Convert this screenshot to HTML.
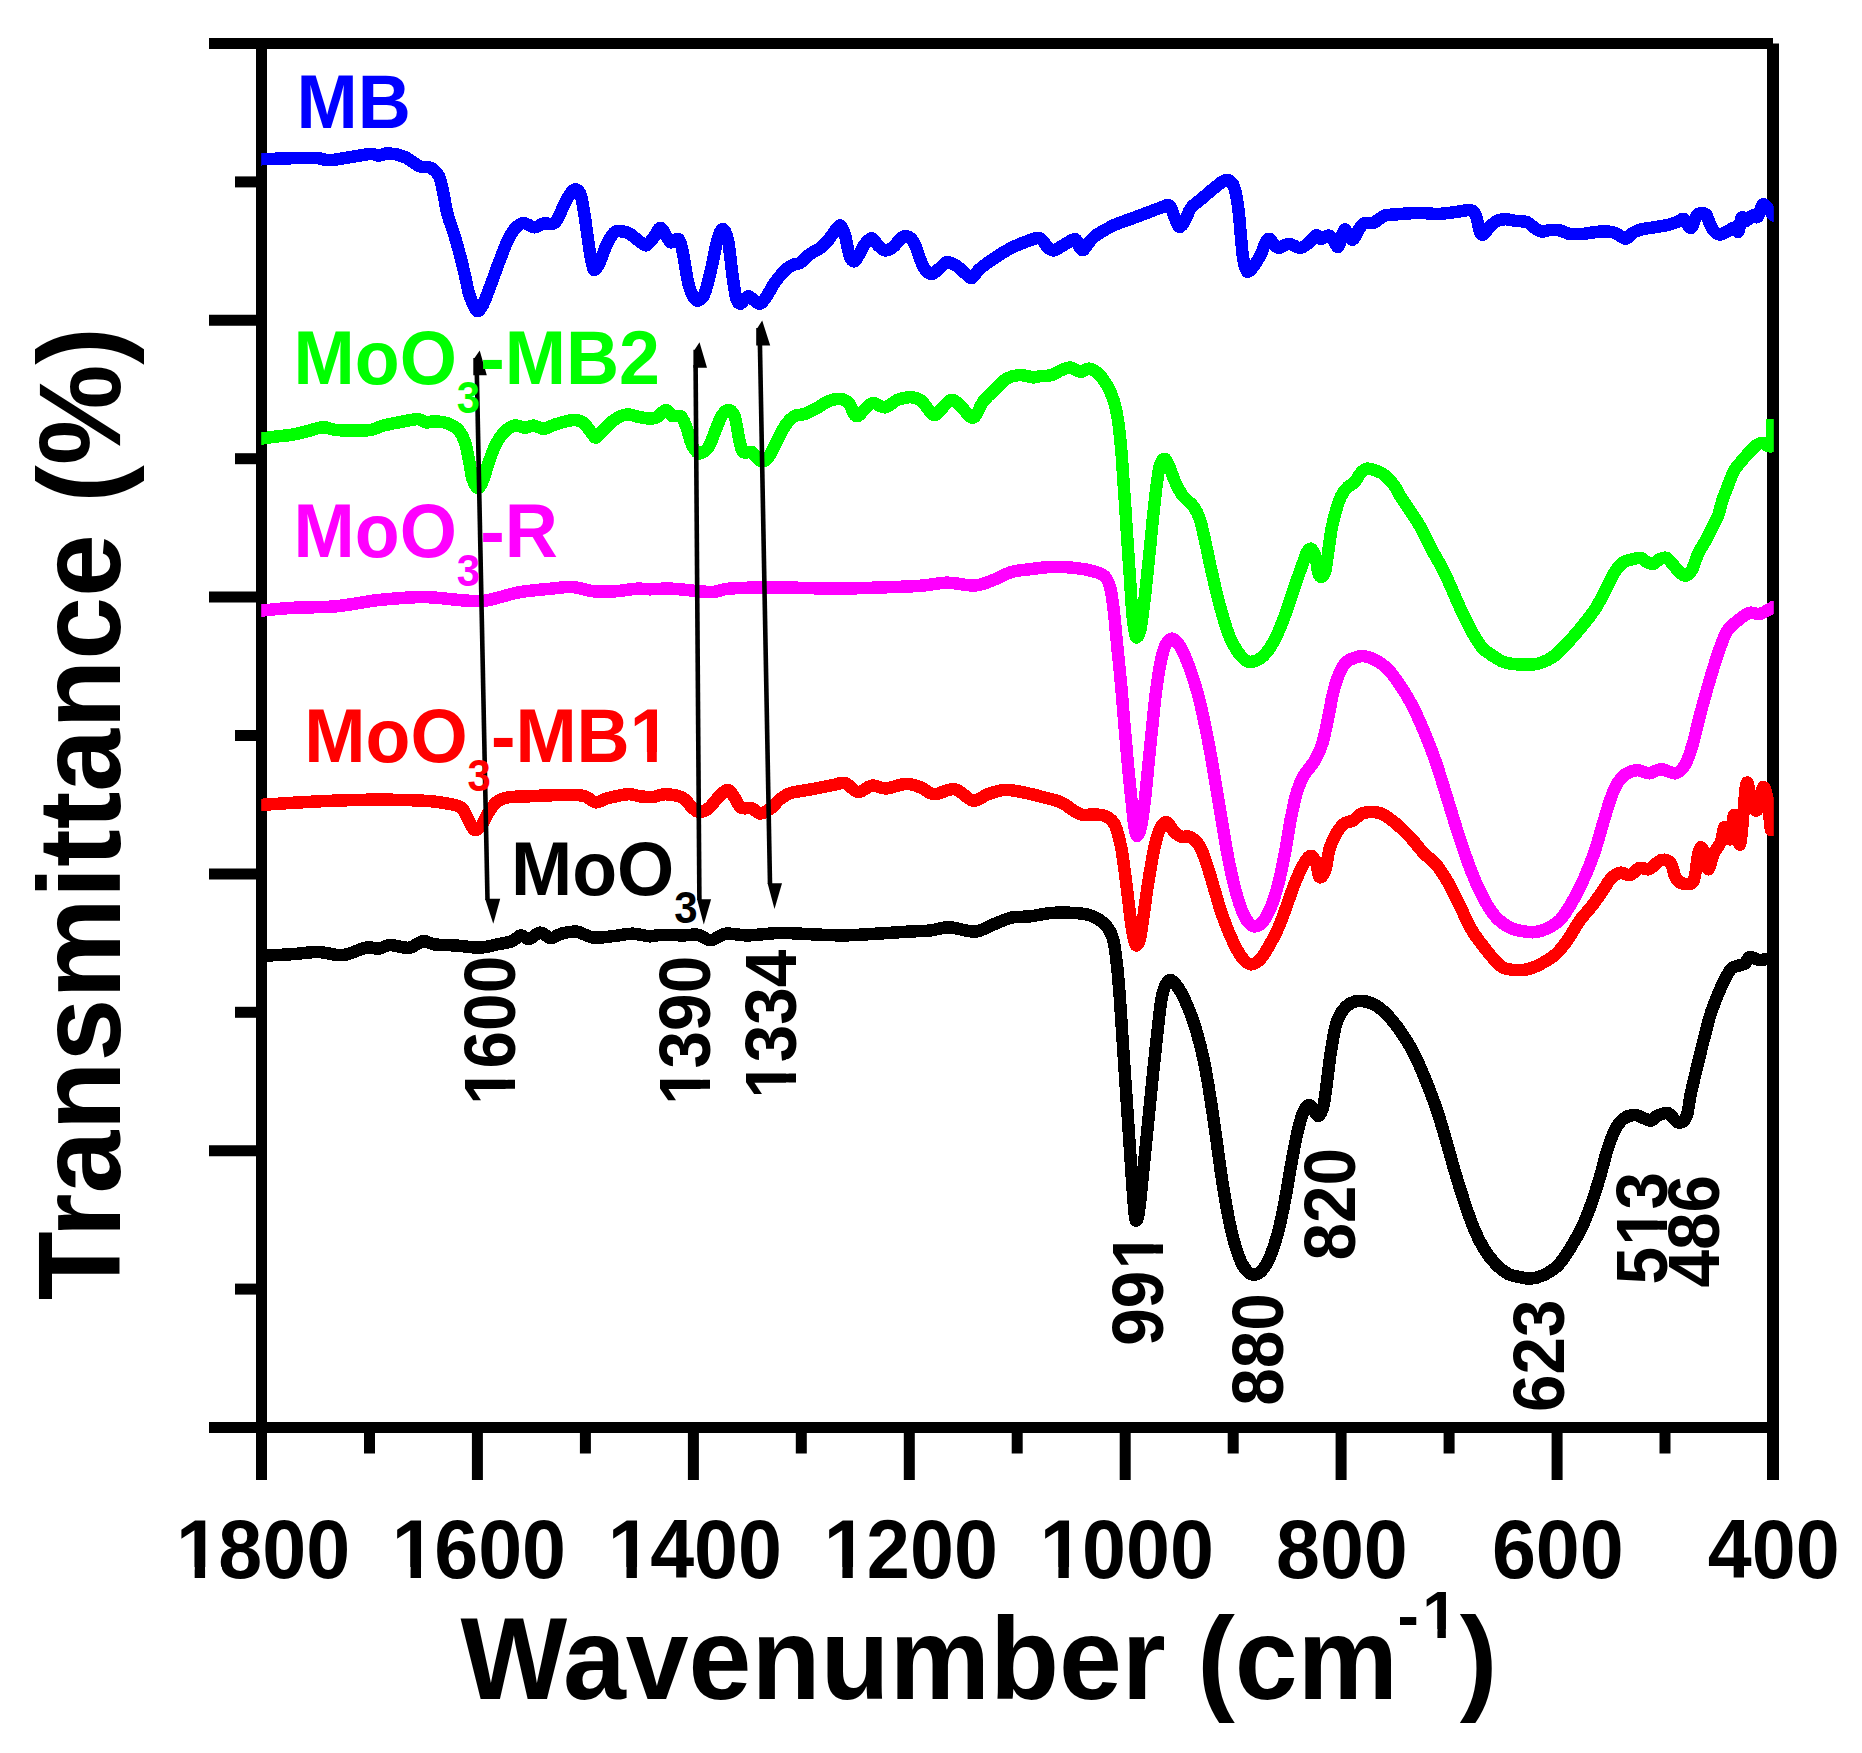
<!DOCTYPE html>
<html lang="en"><head><meta charset="utf-8"><title>FTIR spectra</title>
<style>html,body{margin:0;padding:0;background:#fff}svg{display:block}text{font-family:"Liberation Sans",sans-serif;font-weight:bold}</style></head><body>
<svg width="1862" height="1753" viewBox="0 0 1862 1753">
<rect width="1862" height="1753" fill="#fff"/>
<g stroke="#000" stroke-width="11" fill="none" stroke-linecap="butt">
<line x1="209" y1="43.5" x2="1773.0" y2="43.5"/>
<line x1="209" y1="1427.5" x2="1773.0" y2="1427.5"/>
<line x1="261.5" y1="43.5" x2="261.5" y2="1480"/>
<line x1="1773.0" y1="43.5" x2="1773.0" y2="1480" stroke-width="12"/>
<line x1="477.4" y1="1427.5" x2="477.4" y2="1480"/>
<line x1="693.4" y1="1427.5" x2="693.4" y2="1480"/>
<line x1="909.3" y1="1427.5" x2="909.3" y2="1480"/>
<line x1="1125.2" y1="1427.5" x2="1125.2" y2="1480"/>
<line x1="1341.1" y1="1427.5" x2="1341.1" y2="1480"/>
<line x1="1557.1" y1="1427.5" x2="1557.1" y2="1480"/>
<line x1="369.5" y1="1427.5" x2="369.5" y2="1453.5"/>
<line x1="585.4" y1="1427.5" x2="585.4" y2="1453.5"/>
<line x1="801.3" y1="1427.5" x2="801.3" y2="1453.5"/>
<line x1="1017.2" y1="1427.5" x2="1017.2" y2="1453.5"/>
<line x1="1233.2" y1="1427.5" x2="1233.2" y2="1453.5"/>
<line x1="1449.1" y1="1427.5" x2="1449.1" y2="1453.5"/>
<line x1="1665.0" y1="1427.5" x2="1665.0" y2="1453.5"/>
<line x1="209" y1="320.3" x2="261.5" y2="320.3"/>
<line x1="209" y1="597.1" x2="261.5" y2="597.1"/>
<line x1="209" y1="873.9" x2="261.5" y2="873.9"/>
<line x1="209" y1="1150.7" x2="261.5" y2="1150.7"/>
<line x1="235" y1="181.9" x2="261.5" y2="181.9"/>
<line x1="235" y1="458.7" x2="261.5" y2="458.7"/>
<line x1="235" y1="735.5" x2="261.5" y2="735.5"/>
<line x1="235" y1="1012.3" x2="261.5" y2="1012.3"/>
<line x1="235" y1="1289.1" x2="261.5" y2="1289.1"/>
</g>
<defs><clipPath id="pc"><rect x="261.2" y="40" width="1512.6" height="1392"/></clipPath></defs>
<g fill="none" stroke-linejoin="round" stroke-linecap="butt" stroke-width="12.5" clip-path="url(#pc)" shape-rendering="crispEdges">
<path stroke="#000" d="M255.2 956.0C256.2 956.0 259.3 956.1 261.2 956.0C263.1 955.9 261.5 955.9 266.8 955.6C272.1 955.3 284.4 954.7 293.0 954.1C301.6 953.5 310.5 951.8 318.7 952.0C326.9 952.2 334.5 955.9 342.4 955.2C350.3 954.5 359.9 948.8 366.0 947.7C372.1 946.6 375.0 949.1 378.9 948.7C382.8 948.3 384.6 945.3 389.6 945.1C394.6 944.9 403.4 948.4 409.0 947.7C414.6 947.1 418.7 941.8 423.0 941.2C427.3 940.7 429.2 943.7 434.7 944.4C440.2 945.1 448.7 945.0 456.2 945.5C463.7 946.0 473.1 947.9 479.9 947.7C486.7 947.5 491.6 945.5 497.0 944.4C502.4 943.3 508.1 942.7 512.0 941.2C516.0 939.7 517.8 935.8 520.7 935.4C523.6 935.0 526.1 939.5 529.3 939.0C532.5 938.5 536.4 932.8 540.0 932.6C543.6 932.4 547.2 937.8 550.8 938.0C554.4 938.2 557.2 934.8 561.5 933.7C565.8 932.6 571.1 931.0 576.5 931.6C581.9 932.2 587.2 936.9 593.7 937.6C600.2 938.3 608.8 936.5 615.2 935.9C621.7 935.2 626.6 933.6 632.4 933.7C638.2 933.8 645.1 936.1 650.0 936.3C654.9 936.5 656.0 934.9 661.5 934.8C667.0 934.6 676.9 935.4 683.0 935.4C689.1 935.4 693.4 934.0 698.0 934.8C702.6 935.6 706.2 940.4 710.9 940.2C715.5 940.0 719.8 934.5 725.9 933.7C732.0 932.9 738.4 935.5 747.4 935.4C756.4 935.3 768.9 933.2 779.6 933.0C790.4 932.8 801.2 933.9 811.9 934.3C822.6 934.7 833.3 935.5 844.0 935.4C854.7 935.3 865.5 934.3 876.3 933.7C887.0 933.1 899.5 932.1 908.5 931.6C917.5 931.1 923.2 931.2 930.0 930.5C936.8 929.8 941.8 927.1 949.3 927.3C956.8 927.5 967.5 932.1 975.0 931.6C982.5 931.1 988.4 926.3 994.5 924.0C1000.6 921.7 1005.7 918.9 1011.6 917.6C1017.5 916.3 1022.9 917.2 1030.0 916.4C1037.1 915.6 1044.8 913.2 1054.0 912.8C1063.2 912.4 1077.4 912.8 1085.0 914.0C1092.6 915.2 1095.5 917.4 1099.5 920.0C1103.5 922.6 1106.6 925.7 1109.0 929.5C1111.4 933.3 1112.5 936.1 1113.9 942.7C1115.3 949.3 1116.4 959.8 1117.4 969.0C1118.4 978.2 1119.0 987.0 1119.8 997.8C1120.6 1008.6 1121.4 1021.7 1122.2 1033.7C1123.0 1045.7 1123.8 1057.7 1124.6 1069.7C1125.4 1081.7 1126.2 1093.6 1127.0 1105.6C1127.8 1117.6 1128.6 1129.6 1129.4 1141.6C1130.2 1153.6 1131.0 1166.3 1131.8 1177.5C1132.6 1188.7 1133.5 1201.4 1134.2 1208.6C1134.9 1215.8 1135.2 1220.2 1136.0 1220.6C1136.8 1221.0 1137.9 1218.2 1139.0 1211.0C1140.1 1203.8 1141.4 1189.1 1142.6 1177.5C1143.8 1165.9 1145.0 1153.6 1146.2 1141.6C1147.4 1129.6 1148.6 1117.6 1149.8 1105.6C1151.0 1093.6 1152.2 1081.3 1153.4 1069.7C1154.6 1058.1 1155.8 1046.9 1157.0 1036.1C1158.2 1025.3 1159.4 1013.0 1160.6 1005.0C1161.8 997.0 1162.6 992.4 1164.2 988.2C1165.8 984.0 1167.8 979.8 1170.2 979.8C1172.6 979.8 1175.5 983.6 1178.5 988.2C1181.5 992.8 1185.1 1000.2 1188.1 1007.4C1191.1 1014.6 1193.9 1022.6 1196.5 1031.4C1199.1 1040.2 1201.5 1049.6 1203.7 1060.0C1205.9 1070.4 1207.7 1081.2 1209.7 1093.6C1211.7 1106.0 1213.7 1120.4 1215.7 1134.4C1217.7 1148.4 1219.7 1164.3 1221.7 1177.5C1223.7 1190.7 1225.7 1203.0 1227.7 1213.4C1229.7 1223.8 1231.4 1231.8 1233.6 1239.8C1235.8 1247.8 1238.4 1255.9 1240.8 1261.3C1243.2 1266.7 1245.6 1269.8 1248.0 1272.0C1250.4 1274.2 1252.6 1275.1 1255.2 1274.5C1257.8 1273.9 1260.8 1272.3 1263.6 1268.5C1266.4 1264.7 1269.4 1258.5 1272.0 1251.7C1274.6 1244.9 1277.0 1236.6 1279.2 1227.8C1281.4 1219.0 1283.2 1209.4 1285.2 1199.0C1287.2 1188.6 1289.0 1176.3 1291.0 1165.5C1293.0 1154.7 1295.0 1143.2 1297.0 1134.4C1299.0 1125.6 1301.0 1117.7 1303.0 1112.8C1305.0 1107.9 1307.2 1105.4 1309.0 1105.0C1310.8 1104.6 1312.3 1108.6 1313.9 1110.4C1315.5 1112.2 1317.1 1116.7 1318.7 1115.9C1320.3 1115.1 1322.1 1111.3 1323.5 1105.6C1324.9 1099.9 1325.8 1090.5 1327.0 1081.7C1328.2 1072.9 1329.3 1062.1 1330.7 1052.9C1332.1 1043.7 1333.7 1033.3 1335.5 1026.5C1337.3 1019.7 1338.9 1016.1 1341.5 1012.2C1344.1 1008.3 1347.6 1004.9 1351.0 1003.0C1354.4 1001.1 1357.8 1000.6 1361.8 1000.9C1365.8 1001.2 1370.8 1002.7 1375.0 1005.0C1379.2 1007.3 1382.8 1010.3 1387.0 1014.6C1391.2 1018.9 1395.8 1024.7 1400.0 1030.6C1404.2 1036.5 1408.0 1042.2 1412.0 1049.8C1416.0 1057.4 1420.0 1066.4 1424.0 1076.0C1428.0 1085.6 1432.4 1096.9 1436.0 1107.3C1439.6 1117.7 1442.3 1127.6 1445.5 1138.4C1448.7 1149.2 1451.8 1161.2 1455.0 1172.0C1458.2 1182.8 1461.5 1193.4 1464.7 1203.0C1467.9 1212.6 1471.1 1221.9 1474.3 1229.5C1477.5 1237.1 1480.3 1242.8 1483.9 1248.6C1487.5 1254.4 1491.8 1260.0 1495.8 1264.2C1499.8 1268.4 1503.8 1271.7 1507.8 1273.8C1511.8 1275.9 1516.0 1276.2 1519.8 1277.0C1523.6 1277.8 1526.6 1278.9 1530.6 1278.6C1534.6 1278.3 1539.1 1277.2 1543.7 1275.0C1548.3 1272.8 1553.6 1269.8 1558.0 1265.4C1562.4 1261.0 1566.0 1255.0 1570.0 1248.6C1574.0 1242.2 1578.4 1234.6 1582.0 1227.0C1585.6 1219.4 1588.7 1211.4 1591.7 1203.0C1594.7 1194.6 1597.4 1185.6 1600.0 1176.8C1602.6 1168.0 1604.8 1158.0 1607.2 1150.4C1609.6 1142.8 1611.8 1136.4 1614.4 1131.2C1617.0 1126.0 1619.4 1122.0 1622.8 1119.3C1626.2 1116.6 1630.2 1114.8 1634.8 1115.0C1639.4 1115.2 1646.6 1120.4 1650.4 1120.5C1654.2 1120.6 1654.5 1116.9 1657.5 1115.7C1660.5 1114.5 1664.9 1112.2 1668.3 1113.3C1671.7 1114.4 1674.9 1121.8 1677.9 1122.4C1680.9 1123.0 1684.1 1121.8 1686.3 1116.9C1688.5 1112.0 1689.0 1102.1 1691.0 1092.9C1693.0 1083.7 1695.9 1071.8 1698.3 1061.8C1700.7 1051.8 1703.3 1041.4 1705.5 1033.0C1707.7 1024.6 1708.8 1019.1 1711.4 1011.5C1714.0 1003.9 1717.8 994.5 1721.0 987.5C1724.2 980.5 1727.8 973.1 1730.6 969.5C1733.4 965.9 1735.4 966.9 1737.8 965.9C1740.2 964.9 1743.0 965.0 1745.0 963.5C1747.0 962.0 1747.4 957.6 1749.8 957.0C1752.2 956.4 1756.4 959.7 1759.4 960.0C1762.4 960.3 1765.5 959.1 1767.8 958.7C1770.1 958.3 1772.1 957.7 1773.0 957.5L1779.0 957.5"/>
<path stroke="#f0f" d="M255.2 610.6C256.2 610.6 254.9 611.1 261.2 610.6C267.5 610.1 280.5 608.5 293.0 607.8C305.5 607.1 321.7 607.6 336.0 606.3C350.3 605.0 364.3 601.5 379.0 600.0C393.7 598.5 409.7 597.0 424.0 597.1C438.3 597.2 454.4 599.9 464.8 600.5C475.2 601.1 477.4 601.9 486.3 600.5C495.2 599.1 507.8 594.4 518.5 592.4C529.2 590.4 541.8 589.6 550.8 588.7C559.8 587.8 565.1 586.6 572.2 587.0C579.4 587.4 586.5 590.6 593.7 591.3C600.9 592.0 608.0 591.7 615.2 591.3C622.4 590.9 630.9 589.0 636.7 588.7C642.5 588.4 644.1 589.3 650.0 589.3C655.9 589.3 662.1 588.2 672.2 588.7C682.4 589.2 701.2 592.0 710.9 592.0C720.6 592.0 718.8 589.3 730.2 588.5C741.7 587.7 762.4 587.4 779.6 587.4C796.8 587.4 817.2 588.7 833.3 588.7C849.4 588.7 862.0 588.1 876.3 587.6C890.6 587.1 907.5 586.7 919.3 585.9C931.1 585.1 937.9 582.8 947.2 582.7C956.5 582.6 967.1 586.0 975.0 585.5C982.9 585.0 988.4 581.8 994.5 579.5C1000.6 577.2 1005.7 573.7 1011.6 572.0C1017.5 570.3 1022.9 570.1 1030.0 569.2C1037.1 568.3 1046.0 566.9 1054.0 566.8C1062.0 566.6 1071.5 567.6 1077.9 568.3C1084.3 569.0 1087.9 569.8 1092.3 571.1C1096.7 572.4 1101.3 573.1 1104.3 575.9C1107.3 578.7 1108.7 581.9 1110.3 587.9C1111.9 593.9 1112.7 601.9 1113.9 611.9C1115.1 621.9 1116.2 635.8 1117.4 647.8C1118.6 659.8 1119.8 670.5 1121.0 683.7C1122.2 696.9 1123.4 712.9 1124.6 726.9C1125.8 740.9 1127.0 754.8 1128.2 767.6C1129.4 780.4 1130.8 793.9 1131.8 803.5C1132.8 813.1 1133.3 819.7 1134.2 825.1C1135.1 830.5 1135.8 835.9 1137.0 835.9C1138.2 835.9 1140.1 831.3 1141.4 825.1C1142.7 818.9 1143.8 809.1 1145.0 798.7C1146.2 788.3 1147.4 774.8 1148.6 762.8C1149.8 750.8 1151.0 738.5 1152.2 726.9C1153.4 715.3 1154.4 704.1 1155.8 693.3C1157.2 682.5 1159.0 670.2 1160.6 662.2C1162.2 654.2 1163.4 649.3 1165.4 645.4C1167.4 641.5 1169.9 638.3 1172.5 638.7C1175.1 639.1 1178.1 643.1 1180.9 647.8C1183.7 652.5 1186.5 659.4 1189.3 667.0C1192.1 674.6 1195.1 683.7 1197.7 693.3C1200.3 702.9 1202.7 714.1 1204.9 724.5C1207.1 734.9 1208.9 744.4 1210.9 755.6C1212.9 766.8 1214.9 779.6 1216.9 791.6C1218.9 803.6 1220.9 815.9 1222.9 827.5C1224.9 839.1 1226.6 850.2 1228.8 861.0C1231.0 871.8 1233.6 883.4 1236.0 892.2C1238.4 901.0 1241.0 908.5 1243.2 913.7C1245.4 918.9 1247.2 921.2 1249.2 923.3C1251.2 925.4 1252.8 926.8 1255.2 926.4C1257.6 926.0 1260.8 924.6 1263.6 920.9C1266.4 917.2 1269.4 911.0 1272.0 904.2C1274.6 897.4 1277.0 889.0 1279.2 880.2C1281.4 871.4 1283.2 861.9 1285.2 851.5C1287.2 841.1 1289.0 827.9 1291.0 817.9C1293.0 807.9 1294.8 798.8 1297.0 791.6C1299.2 784.4 1301.3 780.0 1304.3 774.8C1307.3 769.6 1312.0 765.6 1315.0 760.4C1318.0 755.2 1320.1 750.8 1322.3 743.6C1324.5 736.4 1326.5 725.7 1328.3 717.3C1330.1 708.9 1331.2 700.5 1333.0 693.3C1334.8 686.1 1336.8 679.4 1339.0 674.2C1341.2 669.0 1343.5 665.0 1346.3 662.2C1349.1 659.4 1352.8 658.4 1355.8 657.4C1358.8 656.4 1361.0 655.8 1364.2 656.2C1367.4 656.6 1371.2 657.8 1375.0 659.8C1378.8 661.8 1383.0 664.2 1387.0 668.2C1391.0 672.2 1394.8 677.6 1399.0 683.7C1403.2 689.8 1407.8 697.0 1412.0 705.0C1416.2 713.0 1420.0 721.8 1424.0 731.4C1428.0 741.0 1432.0 750.9 1436.0 762.5C1440.0 774.1 1444.0 788.0 1448.0 800.8C1452.0 813.6 1456.0 827.2 1460.0 839.2C1464.0 851.2 1467.9 862.7 1471.9 872.7C1475.9 882.7 1479.9 891.6 1483.9 899.0C1487.9 906.4 1491.4 912.2 1495.8 917.0C1500.2 921.8 1505.4 925.4 1510.2 927.8C1515.0 930.2 1520.4 930.7 1524.6 931.4C1528.8 932.1 1531.4 932.7 1535.4 932.1C1539.4 931.5 1544.3 929.9 1548.5 927.8C1552.7 925.7 1556.5 923.8 1560.5 919.4C1564.5 915.0 1568.5 908.4 1572.5 901.4C1576.5 894.4 1580.9 885.5 1584.5 877.5C1588.1 869.5 1591.2 861.5 1594.0 853.5C1596.8 845.5 1598.8 837.6 1601.2 829.6C1603.6 821.6 1606.0 812.8 1608.4 805.6C1610.8 798.4 1612.8 791.7 1615.6 786.5C1618.4 781.3 1621.6 777.2 1625.2 774.5C1628.8 771.8 1633.2 770.4 1637.2 770.2C1641.2 770.0 1645.2 773.5 1649.2 773.3C1653.2 773.1 1656.6 769.2 1661.0 769.2C1665.4 769.2 1671.5 774.0 1675.5 773.3C1679.5 772.6 1682.2 769.5 1685.0 764.9C1687.8 760.3 1689.9 753.7 1692.3 745.7C1694.7 737.7 1697.1 726.2 1699.5 717.0C1701.9 707.8 1704.3 699.0 1706.7 690.6C1709.1 682.2 1711.4 674.3 1713.8 666.7C1716.2 659.1 1718.6 651.3 1721.0 645.1C1723.4 638.9 1725.0 633.9 1728.2 629.5C1731.4 625.1 1736.6 621.5 1740.2 618.7C1743.8 615.9 1746.6 613.6 1749.8 612.8C1753.0 612.0 1756.2 614.5 1759.4 614.0C1762.6 613.5 1766.6 610.8 1769.0 609.6C1771.4 608.4 1772.9 607.3 1773.7 606.8L1779.7 606.8"/>
<path stroke="#f00" d="M255.2 804.9C256.2 804.9 254.9 805.2 261.2 804.9C267.5 804.5 280.5 803.5 293.0 802.8C305.5 802.1 321.7 801.1 336.0 800.6C350.3 800.1 364.7 799.6 379.0 799.6C393.3 799.6 411.2 800.1 421.9 800.6C432.6 801.1 436.9 801.7 443.3 802.8C449.7 803.9 456.6 804.7 460.5 807.0C464.4 809.3 465.0 813.3 467.0 816.7C469.0 820.1 470.7 825.3 472.3 827.5C473.9 829.7 474.8 830.7 476.6 830.0C478.4 829.3 481.0 826.1 483.0 823.2C485.0 820.3 486.2 816.0 488.5 812.4C490.8 808.8 493.8 804.2 497.0 801.7C500.2 799.2 502.4 798.3 507.8 797.4C513.2 796.5 522.1 796.6 529.3 796.3C536.5 795.9 543.6 795.5 550.8 795.3C557.9 795.0 566.5 794.6 572.2 794.8C577.9 795.0 581.0 795.0 585.0 796.3C589.0 797.6 592.3 802.0 595.9 802.4C599.5 802.8 601.2 799.9 606.6 798.5C612.0 797.1 622.4 794.6 628.0 794.2C633.6 793.8 635.9 795.8 640.0 796.3C644.1 796.8 648.6 797.4 652.9 797.0C657.2 796.6 660.8 794.0 665.8 794.2C670.8 794.4 678.7 795.9 683.0 798.0C687.3 800.1 688.9 804.7 691.6 807.0C694.3 809.3 696.1 811.8 699.0 812.0C701.9 812.2 705.7 810.5 708.7 808.2C711.8 806.0 714.2 801.5 717.3 798.5C720.3 795.5 724.1 790.1 727.0 789.9C729.9 789.7 732.2 794.4 734.5 797.4C736.8 800.4 738.1 805.9 741.0 807.7C743.9 809.5 748.5 807.2 751.7 808.2C754.9 809.2 757.1 813.5 760.3 813.5C763.5 813.5 767.8 810.5 771.0 808.2C774.2 805.9 776.4 802.1 779.6 799.6C782.8 797.1 785.0 794.8 790.4 793.1C795.8 791.4 804.8 790.6 811.9 789.2C819.0 787.9 827.8 786.0 833.3 785.0C838.8 784.0 841.1 781.8 845.2 783.0C849.3 784.2 853.5 791.6 858.0 792.0C862.5 792.4 867.3 786.2 872.0 785.6C876.7 785.0 880.3 788.7 886.0 788.4C891.7 788.1 900.5 784.0 906.4 783.9C912.3 783.8 916.8 786.0 921.4 787.7C926.0 789.4 928.8 794.0 934.3 794.2C939.8 794.5 948.2 788.1 954.7 789.2C961.2 790.3 967.5 799.8 973.0 800.6C978.5 801.4 982.6 796.0 988.0 794.2C993.4 792.4 998.8 790.1 1005.2 789.9C1011.7 789.7 1020.2 791.8 1026.7 793.1C1033.2 794.4 1038.7 796.0 1044.4 797.5C1050.1 799.0 1055.0 799.5 1061.0 802.3C1067.0 805.1 1074.7 812.3 1080.3 814.3C1085.9 816.3 1090.3 813.9 1094.7 814.3C1099.1 814.7 1103.3 814.9 1106.7 816.7C1110.1 818.5 1112.6 820.1 1115.0 825.1C1117.4 830.1 1119.4 839.1 1121.0 846.7C1122.6 854.3 1123.4 861.8 1124.6 870.6C1125.8 879.4 1127.0 889.8 1128.2 899.4C1129.4 909.0 1130.8 921.3 1131.8 928.1C1132.8 934.9 1133.4 937.2 1134.2 940.1C1135.0 943.0 1135.6 945.8 1136.6 945.4C1137.6 945.0 1139.0 943.0 1140.2 937.7C1141.4 932.4 1142.4 923.3 1143.8 913.7C1145.2 904.1 1146.8 891.4 1148.6 880.2C1150.4 869.0 1152.6 855.5 1154.6 846.7C1156.6 837.9 1158.5 831.6 1160.6 827.5C1162.7 823.4 1164.8 821.6 1167.0 822.2C1169.2 822.8 1171.4 828.7 1173.7 831.1C1176.0 833.5 1178.1 835.6 1180.9 836.6C1183.7 837.6 1187.3 835.4 1190.5 837.1C1193.7 838.8 1197.2 841.9 1200.0 846.7C1202.8 851.5 1204.9 858.6 1207.3 865.8C1209.7 873.0 1212.1 881.8 1214.5 889.8C1216.9 897.8 1218.9 905.7 1221.7 913.7C1224.5 921.7 1228.0 930.7 1231.2 937.7C1234.4 944.7 1237.6 951.5 1240.8 955.9C1244.0 960.3 1247.2 963.7 1250.4 964.3C1253.6 964.9 1256.8 962.7 1260.0 959.5C1263.2 956.3 1266.4 950.6 1269.6 945.0C1272.8 939.4 1276.4 932.3 1279.2 925.9C1282.0 919.5 1283.6 914.2 1286.4 906.6C1289.2 899.0 1292.8 887.8 1296.0 880.2C1299.2 872.6 1302.9 865.1 1305.5 861.0C1308.1 856.9 1309.7 855.4 1311.5 855.8C1313.3 856.2 1315.1 860.1 1316.3 863.4C1317.5 866.7 1317.8 873.2 1318.7 875.4C1319.6 877.6 1320.6 877.8 1321.8 876.6C1323.0 875.4 1324.6 872.8 1325.9 868.2C1327.2 863.6 1327.9 854.6 1329.5 849.0C1331.1 843.4 1333.1 838.9 1335.5 834.7C1337.9 830.5 1340.8 826.3 1343.8 823.9C1346.8 821.5 1350.2 822.1 1353.4 820.3C1356.6 818.5 1358.6 814.3 1363.0 813.1C1367.4 811.9 1375.0 811.9 1379.8 813.1C1384.6 814.3 1388.4 817.9 1391.8 820.3C1395.2 822.6 1396.6 824.1 1400.0 827.2C1403.4 830.4 1408.0 834.8 1412.0 839.2C1416.0 843.6 1420.0 849.3 1424.0 853.5C1428.0 857.7 1432.0 859.5 1436.0 864.3C1440.0 869.1 1444.0 875.3 1448.0 882.3C1452.0 889.3 1456.0 898.2 1460.0 906.2C1464.0 914.2 1467.9 923.4 1471.9 930.2C1475.9 937.0 1479.9 941.8 1483.9 947.0C1487.9 952.2 1492.2 957.7 1495.8 961.3C1499.4 964.9 1500.6 967.1 1505.4 968.5C1510.2 969.9 1519.0 970.3 1524.6 969.7C1530.2 969.1 1533.8 967.5 1539.0 964.9C1544.2 962.3 1550.9 958.4 1555.7 954.2C1560.5 950.0 1563.7 945.4 1567.7 939.8C1571.7 934.2 1575.7 926.2 1579.7 920.6C1583.7 915.0 1587.7 911.4 1591.7 906.2C1595.7 901.0 1600.4 894.1 1603.6 889.5C1606.8 884.9 1608.0 881.5 1610.8 878.7C1613.6 875.9 1617.2 873.3 1620.4 872.7C1623.6 872.1 1626.8 875.9 1630.0 875.1C1633.2 874.3 1636.4 868.9 1639.6 867.9C1642.8 866.9 1645.6 870.4 1649.2 869.1C1652.8 867.8 1657.4 861.2 1661.0 860.2C1664.6 859.2 1668.3 860.2 1670.7 863.1C1673.1 866.0 1673.5 874.1 1675.5 877.5C1677.5 880.9 1679.7 882.9 1682.7 883.5C1685.7 884.1 1690.9 886.0 1693.5 881.0C1696.1 876.0 1696.8 859.0 1698.3 853.5C1699.8 848.0 1700.8 845.7 1702.4 848.3C1704.0 850.9 1706.0 868.2 1707.9 869.1C1709.8 870.0 1711.6 858.1 1713.8 853.5C1716.0 848.9 1719.2 846.0 1721.0 841.6C1722.8 837.2 1723.0 827.6 1724.6 827.2C1726.2 826.8 1729.0 841.2 1730.6 839.2C1732.2 837.2 1732.6 814.4 1734.2 815.2C1735.8 816.0 1738.2 849.1 1740.2 844.0C1742.2 838.9 1744.4 792.1 1746.2 784.5C1748.0 776.9 1749.2 794.1 1751.0 798.4C1752.8 802.7 1755.0 812.3 1757.0 810.4C1759.0 808.5 1761.2 788.8 1763.0 787.2C1764.8 785.6 1766.5 793.7 1767.8 800.8C1769.1 807.9 1770.0 826.4 1770.9 829.6C1771.9 832.8 1773.1 821.6 1773.5 820.0L1779.5 820.0"/>
<path stroke="#0f0" d="M255.2 438.5C256.2 438.5 257.4 438.9 261.2 438.5C265.0 438.1 272.7 436.9 278.0 436.3C283.3 435.7 288.0 435.5 293.0 434.6C298.0 433.7 303.0 432.2 308.0 431.0C313.0 429.8 318.3 427.5 323.0 427.3C327.7 427.1 331.0 429.5 336.0 430.0C341.0 430.5 347.3 430.5 353.0 430.5C358.7 430.5 365.3 430.8 370.3 430.0C375.3 429.2 378.2 426.9 383.2 425.6C388.2 424.3 394.7 423.1 400.4 422.0C406.1 420.9 413.3 419.1 417.6 419.2C421.9 419.3 423.1 422.0 426.0 422.4C428.9 422.8 431.1 421.1 434.7 421.3C438.3 421.5 443.7 421.9 447.6 423.4C451.6 424.8 455.5 426.9 458.4 430.0C461.3 433.1 463.0 436.5 464.8 441.7C466.6 446.9 467.9 454.9 469.1 461.0C470.4 467.1 470.9 473.7 472.3 478.2C473.7 482.7 475.9 487.5 477.7 487.9C479.5 488.3 481.2 484.5 483.0 480.4C484.8 476.3 486.5 468.9 488.5 463.2C490.5 457.5 492.5 451.0 495.0 446.0C497.5 441.0 500.3 436.4 503.5 433.0C506.7 429.6 510.6 426.5 514.2 425.6C517.8 424.7 521.8 427.7 525.0 427.7C528.2 427.7 530.4 425.4 533.6 425.6C536.8 425.8 540.7 429.0 544.3 428.8C547.9 428.6 550.4 425.9 555.0 424.5C559.6 423.1 567.5 420.6 572.2 420.2C576.9 419.8 579.8 420.3 583.0 422.4C586.2 424.5 589.4 430.5 591.6 433.0C593.8 435.5 594.1 438.1 596.3 437.4C598.4 436.7 601.4 431.8 604.5 428.8C607.6 425.8 611.5 421.6 615.2 419.2C619.0 416.8 623.1 414.8 627.0 414.4C630.9 414.0 634.8 416.3 638.8 417.0C642.8 417.7 647.6 418.7 650.7 418.7C653.8 418.7 654.7 418.4 657.2 417.0C659.7 415.6 663.3 410.2 665.8 410.0C668.3 409.8 669.7 414.9 672.2 416.0C674.7 417.1 678.5 414.6 680.8 416.4C683.1 418.2 684.4 422.1 686.2 426.7C688.0 431.3 689.8 439.6 691.6 443.9C693.4 448.2 695.4 450.9 697.0 452.4C698.6 453.9 699.2 453.8 701.2 452.9C703.2 452.0 706.4 450.6 708.7 447.0C711.0 443.4 713.1 436.2 715.2 431.0C717.4 425.8 719.5 419.5 721.6 416.0C723.7 412.5 725.9 410.0 728.0 410.0C730.1 410.0 732.7 411.4 734.5 416.0C736.3 420.6 737.5 431.7 738.8 437.4C740.0 443.1 740.9 447.8 742.0 450.3C743.1 452.8 743.7 452.2 745.3 452.5C746.9 452.8 749.8 451.1 751.7 452.0C753.7 452.9 755.2 456.2 757.0 457.8C758.8 459.4 760.4 461.7 762.4 461.5C764.4 461.3 766.4 460.3 768.9 456.7C771.4 453.1 774.6 445.0 777.5 439.6C780.4 434.2 783.1 428.4 786.0 424.5C788.9 420.6 791.5 417.8 794.7 416.0C797.9 414.2 801.5 415.2 805.4 413.8C809.3 412.4 814.4 409.5 818.3 407.3C822.2 405.1 825.0 402.2 829.0 400.9C833.0 399.5 838.6 398.7 842.0 399.2C845.4 399.7 847.5 401.6 849.5 404.0C851.5 406.4 852.4 411.8 853.8 413.8C855.2 415.8 856.2 416.7 858.0 416.0C859.8 415.3 862.0 411.7 864.5 409.5C867.0 407.3 869.6 403.4 873.0 403.0C876.4 402.6 880.8 407.8 884.9 407.3C889.0 406.8 893.5 401.5 897.8 399.8C902.1 398.1 906.8 397.0 910.7 397.2C914.6 397.4 918.2 398.5 921.4 400.9C924.6 403.3 927.7 409.3 930.0 411.6C932.3 413.9 933.2 415.6 935.4 414.9C937.5 414.2 940.2 409.8 942.9 407.3C945.6 404.8 948.6 400.2 951.5 399.8C954.4 399.4 956.4 402.2 960.0 405.2C963.6 408.2 969.0 418.3 973.0 417.6C977.0 416.9 979.8 405.8 983.7 400.9C987.6 396.0 992.7 391.8 996.6 388.0C1000.5 384.2 1003.4 380.4 1007.3 378.3C1011.2 376.2 1015.9 375.3 1020.2 375.1C1024.5 374.9 1029.8 377.1 1033.1 377.3C1036.4 377.5 1036.9 376.6 1040.0 376.2C1043.1 375.8 1047.8 376.2 1051.5 375.1C1055.2 374.0 1059.0 370.9 1062.2 369.7C1065.4 368.4 1067.8 367.2 1070.8 367.6C1073.8 368.0 1077.5 371.7 1080.5 371.9C1083.5 372.1 1086.0 368.3 1089.0 368.7C1092.0 369.1 1095.7 371.1 1098.7 374.0C1101.8 376.9 1104.8 381.4 1107.3 385.9C1109.8 390.4 1112.0 395.2 1113.8 400.9C1115.6 406.6 1116.8 412.0 1118.0 420.2C1119.2 428.4 1120.4 440.3 1121.3 450.3C1122.2 460.3 1122.7 470.0 1123.4 480.4C1124.1 490.8 1124.9 501.9 1125.6 512.6C1126.3 523.3 1127.0 534.1 1127.7 544.8C1128.4 555.5 1129.2 566.2 1129.9 577.0C1130.6 587.8 1131.3 600.7 1132.0 609.3C1132.7 617.9 1133.4 623.9 1134.2 628.6C1135.0 633.3 1135.7 637.6 1136.8 637.6C1137.9 637.6 1139.4 634.0 1140.6 628.6C1141.8 623.2 1142.8 613.6 1143.9 605.0C1145.0 596.4 1145.9 587.0 1147.0 577.0C1148.1 567.0 1149.2 555.5 1150.3 544.8C1151.4 534.1 1152.4 522.6 1153.5 512.6C1154.6 502.6 1155.6 492.6 1156.7 484.7C1157.8 476.8 1158.6 469.6 1160.0 465.3C1161.4 461.0 1163.3 458.5 1164.9 458.9C1166.5 459.3 1167.9 463.7 1169.6 467.5C1171.3 471.3 1172.8 476.9 1175.0 481.5C1177.2 486.1 1179.5 491.3 1182.5 495.4C1185.5 499.5 1190.4 502.3 1193.3 506.2C1196.2 510.1 1197.8 513.3 1199.7 519.0C1201.7 524.7 1203.2 532.6 1205.0 540.5C1206.8 548.4 1208.5 557.3 1210.5 566.3C1212.5 575.2 1214.8 585.6 1216.9 594.2C1219.0 602.8 1221.2 610.7 1223.3 617.9C1225.4 625.1 1227.5 631.7 1229.8 637.2C1232.1 642.8 1234.8 647.4 1237.3 651.2C1239.8 655.0 1242.5 658.0 1244.8 659.8C1247.1 661.6 1248.8 662.1 1251.3 661.9C1253.8 661.7 1257.0 660.7 1259.9 658.7C1262.8 656.7 1265.7 654.0 1268.5 650.0C1271.3 646.0 1274.2 641.1 1277.0 635.0C1279.8 628.9 1282.7 621.5 1285.6 613.6C1288.5 605.7 1291.5 595.7 1294.2 587.8C1296.9 579.9 1299.7 572.2 1301.8 566.3C1303.9 560.4 1305.4 555.2 1307.0 552.3C1308.6 549.4 1310.0 548.1 1311.4 549.0C1312.9 549.9 1314.6 553.8 1315.7 557.7C1316.8 561.7 1317.3 569.5 1318.3 572.7C1319.3 575.9 1320.5 577.4 1321.7 577.0C1322.9 576.6 1324.2 575.3 1325.4 570.6C1326.6 565.9 1327.5 556.2 1328.6 549.0C1329.7 541.8 1330.6 534.0 1331.8 527.6C1333.0 521.2 1334.4 515.9 1336.0 510.5C1337.6 505.1 1339.5 499.3 1341.5 495.4C1343.5 491.4 1345.8 488.9 1348.0 486.8C1350.2 484.7 1352.3 484.8 1354.4 482.5C1356.5 480.2 1358.7 475.2 1360.8 472.9C1362.9 470.6 1364.8 469.0 1367.3 468.6C1369.8 468.2 1373.0 469.6 1375.9 470.7C1378.8 471.8 1381.3 472.3 1384.5 475.0C1387.7 477.7 1392.6 483.4 1395.2 486.8C1397.8 490.2 1397.4 491.5 1400.0 495.6C1402.6 499.8 1407.1 506.1 1410.7 511.7C1414.3 517.2 1417.9 522.4 1421.5 528.9C1425.1 535.4 1428.6 543.6 1432.2 550.4C1435.8 557.2 1439.4 562.6 1443.0 569.7C1446.6 576.9 1450.5 586.1 1453.7 593.3C1456.9 600.5 1459.4 606.6 1462.3 612.7C1465.2 618.8 1467.7 624.2 1470.9 629.9C1474.1 635.6 1478.0 642.7 1481.6 647.0C1485.2 651.3 1488.5 653.0 1492.4 655.6C1496.4 658.2 1499.9 661.0 1505.3 662.5C1510.7 664.0 1518.9 664.6 1524.6 664.7C1530.3 664.8 1534.6 664.7 1539.6 663.2C1544.6 661.7 1549.7 659.4 1554.7 655.6C1559.7 651.8 1565.1 645.6 1569.7 640.6C1574.3 635.6 1578.3 631.0 1582.6 625.6C1586.9 620.2 1591.6 614.5 1595.5 608.4C1599.4 602.3 1603.0 595.1 1606.2 589.0C1609.4 582.9 1611.9 576.4 1614.8 571.9C1617.7 567.4 1620.5 564.3 1623.4 562.2C1626.3 560.1 1629.1 560.1 1632.0 559.4C1634.9 558.7 1638.1 557.4 1640.6 557.9C1643.1 558.4 1644.8 561.2 1647.0 562.2C1649.2 563.2 1651.3 564.2 1653.5 563.7C1655.7 563.2 1657.8 560.0 1660.0 559.0C1662.2 558.0 1664.3 557.0 1666.4 557.9C1668.5 558.8 1670.7 562.0 1672.8 564.3C1674.9 566.6 1677.1 570.0 1679.3 571.9C1681.5 573.8 1683.6 576.1 1685.7 575.7C1687.8 575.3 1689.8 573.6 1692.0 569.7C1694.2 565.8 1696.4 557.1 1698.6 552.5C1700.8 547.9 1702.8 545.7 1705.0 541.8C1707.2 537.9 1709.3 533.2 1711.5 528.9C1713.7 524.6 1716.2 520.6 1718.0 516.0C1719.8 511.4 1720.4 506.4 1722.2 501.0C1724.0 495.6 1726.7 488.8 1728.7 483.8C1730.7 478.8 1732.0 474.5 1734.0 470.9C1736.0 467.3 1738.2 465.2 1740.5 462.3C1742.8 459.4 1745.3 456.6 1748.0 453.7C1750.7 450.8 1754.1 446.9 1756.6 445.1C1759.1 443.3 1761.3 442.9 1763.0 443.0C1764.7 443.1 1766.3 445.1 1767.0 445.5L1770.5 446.5L1772 440L1772 419"/>
<path stroke="#00f" d="M255.2 159.3C256.2 159.3 254.9 159.5 261.2 159.3C267.5 159.1 283.8 158.4 293.0 158.2C302.2 158.0 310.5 157.7 316.6 158.0C322.7 158.3 323.8 160.4 329.5 160.2C335.2 160.0 344.2 158.0 351.0 157.0C357.8 156.0 365.6 154.2 370.3 154.0C375.0 153.8 375.9 155.6 379.0 155.5C382.1 155.4 384.3 153.1 388.6 153.3C392.9 153.6 399.5 154.8 404.7 157.0C409.9 159.2 415.4 164.4 419.7 166.2C424.0 168.0 427.3 166.0 430.5 167.7C433.7 169.4 436.9 172.1 439.0 176.3C441.1 180.5 441.9 186.6 443.3 193.0C444.7 199.4 445.8 207.7 447.6 214.5C449.4 221.3 452.0 227.5 454.0 233.9C456.0 240.3 457.7 246.4 459.5 253.2C461.3 260.0 463.2 267.9 464.8 274.7C466.4 281.5 467.7 289.0 469.1 294.0C470.5 299.0 472.0 301.8 473.4 304.7C474.8 307.6 476.1 311.2 477.7 311.2C479.3 311.2 480.9 309.0 483.0 304.7C485.1 300.4 487.9 292.5 490.6 285.4C493.3 278.2 496.3 269.3 499.2 261.8C502.1 254.3 505.3 245.7 507.8 240.3C510.3 234.9 511.7 232.5 514.2 229.6C516.7 226.7 519.4 223.5 522.8 223.1C526.2 222.7 531.2 227.3 534.6 227.4C538.0 227.5 539.8 224.3 543.2 223.5C546.6 222.7 551.6 225.6 555.0 222.7C558.4 219.8 561.1 210.7 563.6 205.9C566.1 201.1 568.0 196.9 570.0 194.1C572.0 191.3 573.7 189.0 575.5 189.2C577.3 189.4 579.2 190.3 580.8 195.2C582.4 200.1 583.7 209.9 585.1 218.8C586.5 227.8 588.1 241.0 589.4 248.9C590.6 256.8 591.7 262.5 592.6 266.0C593.5 269.5 593.7 270.1 594.8 269.7C595.9 269.3 597.1 268.1 599.1 263.9C601.1 259.7 604.3 249.6 606.6 244.6C608.9 239.6 611.2 236.1 613.0 233.9C614.8 231.7 614.8 231.5 617.3 231.3C619.8 231.1 624.9 231.5 628.1 232.8C631.3 234.1 634.0 237.2 636.7 239.2C639.4 241.2 642.4 243.7 644.2 244.6C646.0 245.5 645.9 245.9 647.5 244.6C649.1 243.3 651.9 239.8 654.0 237.0C656.1 234.2 658.2 228.0 660.4 228.0C662.5 228.0 665.1 234.6 666.9 237.0C668.7 239.4 669.0 242.0 671.0 242.4C673.0 242.8 676.7 237.4 678.7 239.2C680.7 241.0 681.4 245.8 683.0 253.2C684.6 260.6 686.5 276.0 688.3 283.3C690.1 290.6 692.0 294.3 693.7 297.2C695.4 300.1 696.6 301.0 698.4 300.5C700.2 300.0 702.3 299.0 704.4 294.0C706.5 289.0 708.8 279.3 710.9 270.4C713.0 261.4 715.3 247.2 717.3 240.3C719.3 233.4 720.9 229.1 722.7 229.1C724.5 229.1 726.4 232.7 728.0 240.3C729.6 247.9 731.0 265.0 732.4 274.7C733.8 284.4 734.9 293.5 736.2 298.3C737.6 303.1 738.5 304.0 740.5 303.7C742.5 303.4 745.4 296.4 748.5 296.4C751.6 296.4 756.2 303.7 759.2 303.7C762.2 303.7 764.2 299.6 766.7 296.2C769.2 292.8 771.4 287.4 774.3 283.3C777.2 279.2 780.9 274.6 783.9 271.5C786.9 268.4 789.8 266.4 792.5 265.0C795.2 263.6 797.1 264.7 800.0 262.9C802.9 261.1 806.3 256.8 809.7 254.3C813.1 251.8 817.3 250.3 820.5 247.8C823.7 245.3 826.3 242.4 829.0 239.2C831.7 236.0 834.6 230.7 836.6 228.5C838.6 226.3 839.5 224.7 840.9 225.9C842.3 227.2 843.8 231.1 845.2 236.0C846.6 240.9 848.1 251.1 849.5 255.3C850.9 259.5 852.4 261.2 853.8 261.4C855.2 261.6 856.2 259.2 858.0 256.4C859.8 253.6 862.2 247.6 864.5 244.6C866.8 241.6 869.5 238.2 871.6 238.2C873.8 238.2 875.2 242.6 877.4 244.6C879.6 246.6 882.2 250.1 884.9 250.4C887.6 250.8 891.0 248.6 893.5 246.7C896.0 244.8 897.9 241.0 900.0 239.2C902.1 237.4 904.1 235.5 906.4 236.0C908.7 236.5 911.6 238.5 913.9 242.4C916.2 246.3 918.3 254.9 920.3 259.6C922.3 264.3 923.7 268.0 925.7 270.4C927.7 272.8 929.9 274.4 932.2 274.0C934.5 273.6 937.2 270.2 939.7 268.2C942.2 266.2 944.3 262.5 947.2 262.2C950.1 261.9 953.9 264.2 956.9 266.1C959.9 268.0 963.0 271.6 965.5 273.6C968.0 275.6 969.6 278.6 971.9 277.9C974.2 277.2 976.0 272.4 979.4 269.3C982.8 266.2 987.3 263.0 992.3 259.6C997.3 256.2 1003.8 251.9 1009.5 248.9C1015.2 245.9 1021.7 243.2 1026.7 241.4C1031.7 239.6 1036.3 237.3 1039.7 238.2C1043.1 239.1 1044.9 244.7 1047.2 246.7C1049.5 248.7 1050.7 250.8 1053.6 250.4C1056.5 250.1 1060.8 246.5 1064.4 244.6C1068.0 242.7 1072.6 238.8 1075.1 239.2C1077.6 239.5 1078.0 244.9 1079.4 246.7C1080.8 248.5 1081.7 250.7 1083.3 250.0C1084.9 249.3 1086.8 244.9 1089.0 242.4C1091.2 239.9 1092.5 237.8 1096.6 234.9C1100.7 232.1 1108.1 228.0 1113.8 225.3C1119.5 222.6 1125.3 221.0 1131.0 218.8C1136.7 216.7 1143.0 214.3 1148.0 212.4C1153.0 210.5 1157.4 208.8 1161.0 207.6C1164.6 206.4 1167.4 204.0 1169.6 205.5C1171.8 207.0 1172.8 213.1 1174.4 216.7C1176.0 220.2 1177.6 226.1 1179.3 226.8C1181.0 227.5 1182.8 224.1 1184.7 221.0C1186.7 217.9 1188.1 211.8 1191.0 208.0C1193.9 204.2 1198.0 201.8 1201.9 198.4C1205.9 195.0 1211.1 190.6 1214.7 187.7C1218.3 184.8 1221.0 182.4 1223.3 181.2C1225.6 179.9 1226.9 179.3 1228.7 180.2C1230.5 181.1 1232.5 182.3 1234.0 186.6C1235.5 190.9 1236.9 198.4 1238.0 205.9C1239.1 213.4 1239.7 223.1 1240.5 231.7C1241.3 240.3 1242.1 251.2 1243.0 257.5C1243.9 263.8 1245.0 267.0 1245.9 269.3C1246.9 271.6 1247.3 272.2 1248.7 271.5C1250.1 270.8 1252.5 267.9 1254.5 265.0C1256.5 262.1 1259.1 257.9 1260.9 254.3C1262.7 250.7 1263.8 246.1 1265.2 243.5C1266.6 240.9 1267.9 238.4 1269.5 238.8C1271.1 239.2 1273.3 244.2 1274.9 245.7C1276.5 247.2 1276.9 248.1 1279.2 247.8C1281.5 247.5 1285.5 243.9 1288.9 243.9C1292.3 243.9 1296.4 247.9 1299.6 247.8C1302.8 247.7 1305.5 245.6 1308.2 243.5C1310.9 241.4 1313.6 236.2 1315.7 235.4C1317.8 234.6 1318.8 238.8 1321.0 238.8C1323.2 238.8 1326.4 235.0 1328.6 235.4C1330.8 235.8 1332.4 239.5 1334.0 241.4C1335.6 243.3 1336.9 247.9 1338.3 246.7C1339.7 245.4 1341.4 236.8 1342.6 233.9C1343.8 231.1 1344.3 229.1 1345.4 229.6C1346.5 230.1 1347.7 235.4 1349.0 237.0C1350.3 238.6 1351.7 240.4 1353.3 239.2C1354.9 238.0 1356.9 232.2 1358.7 229.6C1360.5 227.0 1361.5 224.7 1364.0 223.5C1366.5 222.3 1370.3 224.0 1373.7 222.7C1377.1 221.4 1380.9 217.0 1384.5 215.6C1388.1 214.2 1391.3 214.9 1395.2 214.5C1399.1 214.1 1403.6 213.7 1408.0 213.4C1412.4 213.2 1416.4 212.9 1421.5 213.0C1426.6 213.1 1432.6 214.1 1438.7 213.9C1444.8 213.7 1452.6 212.3 1458.0 211.7C1463.4 211.1 1467.9 209.4 1470.9 210.2C1474.0 211.0 1474.9 213.3 1476.3 216.7C1477.7 220.1 1478.3 227.6 1479.5 230.6C1480.7 233.6 1481.8 235.0 1483.4 234.5C1485.0 234.0 1487.0 229.7 1489.2 227.4C1491.4 225.2 1494.0 222.4 1496.7 221.0C1499.4 219.6 1502.1 219.2 1505.3 219.2C1508.5 219.2 1512.4 220.5 1516.0 221.0C1519.6 221.5 1523.5 220.8 1526.7 222.0C1529.9 223.2 1532.8 226.9 1535.3 228.5C1537.8 230.1 1539.3 231.4 1541.8 231.7C1544.3 231.9 1547.5 230.2 1550.4 230.0C1553.3 229.8 1555.8 229.5 1559.0 230.2C1562.2 230.8 1565.8 233.3 1569.7 233.9C1573.6 234.5 1578.7 234.2 1582.6 233.9C1586.5 233.7 1589.7 232.8 1593.3 232.4C1596.9 232.0 1600.4 231.2 1604.0 231.3C1607.6 231.4 1611.2 231.6 1614.8 232.8C1618.4 234.0 1622.6 238.6 1625.6 238.6C1628.6 238.6 1630.5 234.3 1633.0 232.8C1635.5 231.3 1637.2 230.5 1640.6 229.6C1644.0 228.7 1649.2 228.1 1653.5 227.4C1657.8 226.7 1662.5 226.2 1666.4 225.3C1670.3 224.4 1674.1 223.1 1677.0 222.0C1679.9 220.9 1681.8 218.2 1683.6 218.8C1685.4 219.4 1686.6 223.9 1687.9 225.3C1689.2 226.7 1690.4 228.8 1691.7 227.4C1693.0 226.0 1694.7 219.0 1696.0 216.7C1697.3 214.4 1698.0 213.8 1699.7 213.4C1701.4 213.0 1704.2 212.5 1706.0 214.5C1707.8 216.5 1709.0 222.4 1710.4 225.3C1711.9 228.2 1713.1 230.2 1714.7 231.7C1716.3 233.2 1717.7 234.7 1720.0 234.5C1722.3 234.3 1726.2 231.8 1728.7 230.6C1731.2 229.4 1733.4 227.2 1735.0 227.4C1736.6 227.6 1737.2 233.3 1738.3 231.7C1739.4 230.1 1740.3 219.5 1741.6 217.7C1742.9 215.9 1744.1 221.3 1745.9 221.0C1747.7 220.7 1750.3 216.3 1752.3 215.6C1754.3 214.9 1755.9 218.6 1757.7 216.7C1759.5 214.8 1761.2 205.7 1763.0 204.4C1764.8 203.2 1766.6 207.3 1768.4 209.2C1770.2 211.1 1772.9 214.5 1773.8 215.6L1779.8 215.6"/>
</g>
<g stroke="#000" stroke-width="4.6" fill="#000">
<line x1="476.8" y1="372.0" x2="487.5" y2="900.0"/>
<line x1="695.6" y1="365.0" x2="699.4" y2="900.0"/>
<line x1="759.9" y1="343.0" x2="770.0" y2="884.0"/>
<polygon stroke="none" points="479.7,350.5 474.5,358.0 473.3,358.0 473.3,375.3 486.8,375.3"/>
<polygon stroke="none" points="493.3,923.8 485.1,898.7 500.2,898.7"/>
<polygon stroke="none" points="699.5,342.3 694.6,349.8 693.4,349.8 693.4,367.7 707.0,367.7"/>
<polygon stroke="none" points="703.8,924.4 697.1,899.3 711.1,899.3"/>
<polygon stroke="none" points="762.2,320.4 757.4,327.9 756.2,327.9 756.2,345.5 770.2,345.5"/>
<polygon stroke="none" points="774.5,909.0 767.6,883.2 782.0,883.2"/>
</g>
<clipPath id="c1"><path clip-rule="evenodd" d="M-3000 -3000H3000V3000H-3000ZM3.16 -10.27H20.26V2.37H3.16ZM30.69 -10.27H47.40V2.37H30.69Z"/></clipPath>
<text transform="translate(174.4,1577.8) scale(1,1.050)" font-size="79" fill="#000" dx="1.58 -1.58" clip-path="url(#c1)">1800</text>
<clipPath id="c2"><path clip-rule="evenodd" d="M-3000 -3000H3000V3000H-3000ZM3.16 -10.27H20.26V2.37H3.16ZM30.69 -10.27H47.40V2.37H30.69Z"/></clipPath>
<text transform="translate(390.3,1577.8) scale(1,1.050)" font-size="79" fill="#000" dx="1.58 -1.58" clip-path="url(#c2)">1600</text>
<clipPath id="c3"><path clip-rule="evenodd" d="M-3000 -3000H3000V3000H-3000ZM3.16 -10.27H20.26V2.37H3.16ZM30.69 -10.27H47.40V2.37H30.69Z"/></clipPath>
<text transform="translate(606.2,1577.8) scale(1,1.050)" font-size="79" fill="#000" dx="1.58 -1.58" clip-path="url(#c3)">1400</text>
<clipPath id="c4"><path clip-rule="evenodd" d="M-3000 -3000H3000V3000H-3000ZM3.16 -10.27H20.26V2.37H3.16ZM30.69 -10.27H47.40V2.37H30.69Z"/></clipPath>
<text transform="translate(822.1,1577.8) scale(1,1.050)" font-size="79" fill="#000" dx="1.58 -1.58" clip-path="url(#c4)">1200</text>
<clipPath id="c5"><path clip-rule="evenodd" d="M-3000 -3000H3000V3000H-3000ZM3.16 -10.27H20.26V2.37H3.16ZM30.69 -10.27H47.40V2.37H30.69Z"/></clipPath>
<text transform="translate(1038.1,1577.8) scale(1,1.050)" font-size="79" fill="#000" dx="1.58 -1.58" clip-path="url(#c5)">1000</text>
<text transform="translate(1276.0,1577.8) scale(1,1.050)" font-size="79" fill="#000">800</text>
<text transform="translate(1491.9,1577.8) scale(1,1.050)" font-size="79" fill="#000">600</text>
<text transform="translate(1707.8,1577.8) scale(1,1.050)" font-size="79" fill="#000">400</text>
<clipPath id="c6"><path clip-rule="evenodd" d="M-3000 -3000H3000V3000H-3000ZM963.05 -67.82H976.91V-57.58H963.05ZM985.35 -67.82H998.89V-57.58H985.35Z"/></clipPath>
<text transform="translate(460.5,1698.8) scale(1,1.030)" font-size="113" fill="#000" clip-path="url(#c6)">Wavenumber (cm<tspan font-size="64" dy="-59.5" dx="-0.5 3.4">-1</tspan><tspan dy="59.5" dx="2">)</tspan></text>
<text transform="translate(120.2,1300.2) rotate(-90) scale(1,1.040)" font-size="113" fill="#000">Transmittance (%)</text>
<text transform="translate(296.6,128.3) scale(1,1.040)" font-size="73.5" fill="#00f">MB</text>
<text transform="translate(293.6,384.1) scale(1,1.040)" font-size="73.5" fill="#0f0">MoO<tspan font-size="42" dy="27.8">3</tspan><tspan dy="-27.8">-MB2</tspan></text>
<text transform="translate(293.6,557.0) scale(1,1.040)" font-size="73.5" fill="#f0f">MoO<tspan font-size="42" dy="27.8">3</tspan><tspan dy="-27.8">-R</tspan></text>
<clipPath id="c7"><path clip-rule="evenodd" d="M-3000 -3000H3000V3000H-3000ZM326.91 -9.55H342.82V2.21H326.91ZM352.52 -9.55H368.07V2.21H352.52Z"/></clipPath>
<text transform="translate(304.3,762.0) scale(1,1.040)" font-size="73.5" fill="#f00" clip-path="url(#c7)">MoO<tspan font-size="42" dy="27.8">3</tspan><tspan dy="-27.8">-MB1</tspan></text>
<text transform="translate(511.0,894.5) scale(1,1.040)" font-size="73.5" fill="#000">MoO<tspan font-size="42" dy="27.8">3</tspan></text>
<clipPath id="c8"><path clip-rule="evenodd" d="M-3000 -3000H3000V3000H-3000ZM2.70 -8.78H17.31V2.02H2.70ZM26.22 -8.78H40.50V2.02H26.22Z"/></clipPath>
<text transform="translate(515.0,1106.0) rotate(-90) scale(1,1.080)" font-size="67.5" fill="#000" dx="1.35 -1.35" clip-path="url(#c8)">1600</text>
<clipPath id="c9"><path clip-rule="evenodd" d="M-3000 -3000H3000V3000H-3000ZM2.70 -8.78H17.31V2.02H2.70ZM26.22 -8.78H40.50V2.02H26.22Z"/></clipPath>
<text transform="translate(710.0,1106.0) rotate(-90) scale(1,1.080)" font-size="67.5" fill="#000" dx="1.35 -1.35" clip-path="url(#c9)">1390</text>
<clipPath id="c10"><path clip-rule="evenodd" d="M-3000 -3000H3000V3000H-3000ZM2.70 -8.78H17.31V2.02H2.70ZM26.22 -8.78H40.50V2.02H26.22Z"/></clipPath>
<text transform="translate(795.5,1099.8) rotate(-90) scale(1,1.080)" font-size="67.5" fill="#000" dx="1.35 -1.35" clip-path="url(#c10)">1334</text>
<clipPath id="c11"><path clip-rule="evenodd" d="M-3000 -3000H3000V3000H-3000ZM77.76 -8.78H92.37V2.02H77.76ZM101.28 -8.78H115.56V2.02H101.28Z"/></clipPath>
<text transform="translate(1163.0,1345.8) rotate(-90) scale(1,1.080)" font-size="67.5" fill="#000" dx="0 0 1.35" clip-path="url(#c11)">991</text>
<text transform="translate(1283.2,1405.8) rotate(-90) scale(1,1.080)" font-size="67.5" fill="#000">880</text>
<text transform="translate(1355.0,1260.6) rotate(-90) scale(1,1.080)" font-size="67.5" fill="#000">820</text>
<text transform="translate(1564.0,1412.0) rotate(-90) scale(1,1.080)" font-size="67.5" fill="#000">623</text>
<clipPath id="c12"><path clip-rule="evenodd" d="M-3000 -3000H3000V3000H-3000ZM40.23 -8.78H54.84V2.02H40.23ZM63.75 -8.78H78.03V2.02H63.75Z"/></clipPath>
<text transform="translate(1667.0,1284.5) rotate(-90) scale(1,1.080)" font-size="67.5" fill="#000" dx="0 1.35 -1.35" clip-path="url(#c12)">513</text>
<text transform="translate(1719.0,1287.5) rotate(-90) scale(1,1.080)" font-size="67.5" fill="#000">486</text>
</svg></body></html>
